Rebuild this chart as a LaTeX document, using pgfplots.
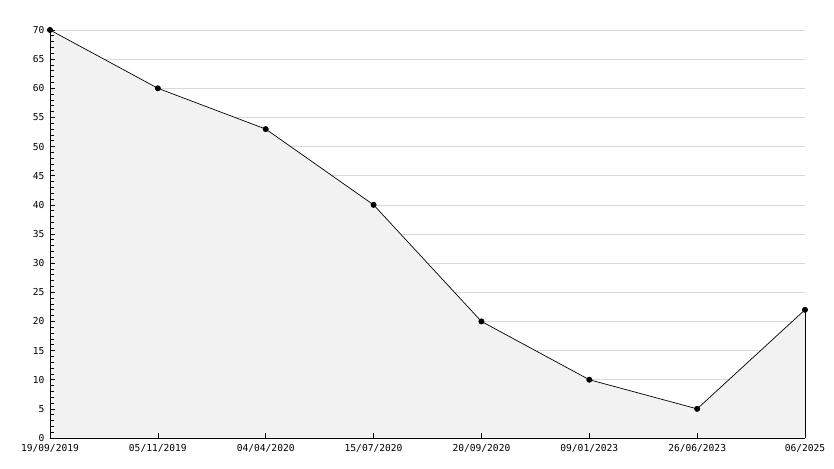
\documentclass[border=0pt]{standalone}
\usepackage{fontspec}
\setmainfont{DejaVu Sans Mono}
\usepackage{pgfplots}
\pgfplotsset{compat=1.18}
\begin{document}
\begin{tikzpicture}
\begin{axis}[
  at={(0,0)}, anchor=south west,
  scale only axis, width=755pt, height=408pt,
  xmin=0, xmax=7, ymin=0, ymax=70,
  axis lines*=left,
  axis on top,
  axis line style={-, black, line width=0.9pt},
  xtick={0,...,7},
  xticklabels={19/09/2019,05/11/2019,04/04/2020,15/07/2020,20/09/2020,09/01/2023,26/06/2023,06/2025},
  ytick={0,5,...,70},
  minor y tick num=4,
  tick align=inside,
  major tick length=5pt, minor tick length=4pt,
  tick style={black, line width=0.7pt},
  /pgf/number format/assume math mode=true,
  tick label style={font=\fontsize{9.6}{11}\selectfont},
  yticklabel style={xshift=-2pt},
  xticklabel style={yshift=-2.5pt},
  clip=false,
]
\pgfplotsinvokeforeach{5,10,...,70}{
  \addplot[gray!30, line width=0.7pt, forget plot] coordinates {(0,#1) (7,#1)};
}
\addplot[draw=none, fill=gray!10] coordinates {(0,70) (1,60) (2,53) (3,40) (4,20) (5,10) (6,5) (7,22)} \closedcycle;
\addplot[black, line width=0.7pt] coordinates {(7,0) (7,22)};
\addplot[black, line width=0.7pt, mark=*, mark size=2.6pt] coordinates {(0,70) (1,60) (2,53) (3,40) (4,20) (5,10) (6,5) (7,22)};
\end{axis}
\pgfresetboundingbox
\useasboundingbox (-50pt,-30pt) rectangle (784pt,438pt);
\end{tikzpicture}
\end{document}
